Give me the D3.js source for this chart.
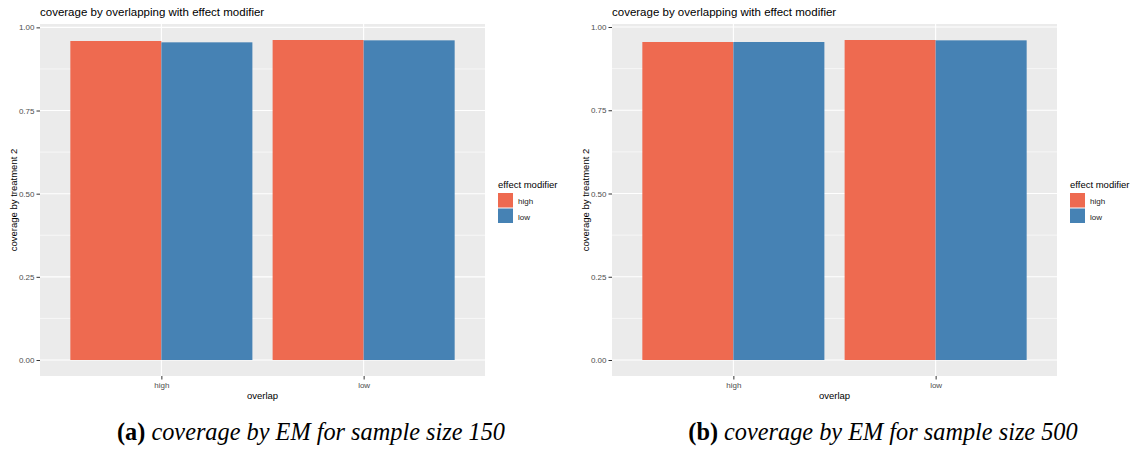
<!DOCTYPE html>
<html>
<head>
<meta charset="utf-8">
<script src="https://cdn.jsdelivr.net/npm/d3@7"></script>
<style>
  body { margin: 0; background: #fff; }
  text { font-family: "Liberation Sans", Arial, sans-serif; }
</style>
</head>
<body>
<script>
// data
const overlap = ['high', 'low'];
const modifiers = ['high', 'low'];
const colors = ['#EE6A50', '#4682B4'];
// coverage for each overlap level, by effect modifier (high, low)
const cov150High = [0.959, 0.955];
const cov150Low = [0.962, 0.961];
const cov500High = [0.955, 0.955];
const cov500Low = [0.961, 0.960];
const yTicks = [0, 0.25, 0.5, 0.75, 1.0];
const yMinor = [0.125, 0.375, 0.625, 0.875];

const width = 1132;
const height = 451;

const svg = d3.select('body').append('svg')
    .attr('width', width)
    .attr('height', height);

function drawPanel(x0, highVals, lowVals, tag, caption) {
    const rows = [];
    overlap.forEach((o, i) => {
        const vals = i === 0 ? highVals : lowVals;
        modifiers.forEach((m, j) => rows.push({overlap: o, em: m, value: vals[j]}));
    });

    const left = x0 + 40, right = x0 + 485, top = 24, bottom = 376;
    const g = svg.append('g');

    // ggplot-like discrete scale: 0.6 unit padding on each side
    const x = d3.scaleLinear().domain([0.4, 2.6]).range([left, right]);
    const maxV = d3.max(rows, d => d.value);
    const y = d3.scaleLinear().domain([-0.05 * maxV, 1.05 * maxV]).range([bottom, top]);
    const color = d3.scaleOrdinal().domain(modifiers).range(colors);

    g.append('rect')
        .attr('x', left).attr('y', top)
        .attr('width', right - left).attr('height', bottom - top)
        .attr('fill', '#EBEBEB');

    g.selectAll('.minor').data(yMinor).join('line')
        .attr('x1', left).attr('x2', right)
        .attr('y1', d => y(d)).attr('y2', d => y(d))
        .attr('stroke', '#fff').attr('stroke-width', 0.6);
    g.selectAll('.major').data(yTicks).join('line')
        .attr('x1', left).attr('x2', right)
        .attr('y1', d => y(d)).attr('y2', d => y(d))
        .attr('stroke', '#fff').attr('stroke-width', 1.1);
    g.selectAll('.xgrid').data(overlap).join('line')
        .attr('x1', (d, i) => x(i + 1)).attr('x2', (d, i) => x(i + 1))
        .attr('y1', top).attr('y2', bottom)
        .attr('stroke', '#fff').attr('stroke-width', 1.1);

    // dodged bars, width 0.9
    g.selectAll('.bar').data(rows).join('rect')
        .attr('x', d => x(overlap.indexOf(d.overlap) + 1 - 0.45 + 0.45 * modifiers.indexOf(d.em)))
        .attr('width', x(1.45) - x(1))
        .attr('y', d => y(d.value))
        .attr('height', d => y(0) - y(d.value))
        .attr('fill', d => color(d.em));

    // y axis
    const yAxis = g.append('g')
        .attr('transform', `translate(${left},0)`)
        .call(d3.axisLeft(y).tickValues(yTicks).tickFormat(d3.format('.2f')).tickSize(3.5).tickPadding(2));
    yAxis.select('.domain').remove();
    yAxis.selectAll('line').attr('stroke', '#333');
    yAxis.selectAll('text').attr('fill', '#4D4D4D').attr('font-size', 8)
        .style('font-family', '"Liberation Sans", Arial, sans-serif');

    // x axis
    const xAxis = g.append('g')
        .attr('transform', `translate(0,${bottom})`)
        .call(d3.axisBottom(x).tickValues([1, 2]).tickFormat((d, i) => overlap[i]).tickSize(3.5).tickPadding(3));
    xAxis.select('.domain').remove();
    xAxis.selectAll('line').attr('stroke', '#333');
    xAxis.selectAll('text').attr('fill', '#4D4D4D').attr('font-size', 8)
        .style('font-family', '"Liberation Sans", Arial, sans-serif');

    g.append('text')
        .attr('x', (left + right) / 2).attr('y', 399)
        .attr('text-anchor', 'middle').attr('font-size', 9.5)
        .text('overlap');
    g.append('text')
        .attr('transform', `translate(${x0 + 17},${(top + bottom) / 2}) rotate(-90)`)
        .attr('text-anchor', 'middle').attr('font-size', 9.5)
        .text('coverage by treatment 2');
    g.append('text')
        .attr('x', left).attr('y', 16)
        .attr('font-size', 11.5)
        .text('coverage by overlapping with effect modifier');

    // legend
    const lg = g.append('g').attr('transform', `translate(${x0 + 498},0)`);
    lg.append('text').attr('x', 0).attr('y', 188).attr('font-size', 9.5).text('effect modifier');
    lg.selectAll('rect').data(modifiers).join('rect')
        .attr('x', 0).attr('y', (d, i) => 193 + i * 15.5)
        .attr('width', 15).attr('height', 14.5)
        .attr('fill', d => color(d));
    lg.selectAll('.lab').data(modifiers).join('text')
        .attr('x', 20).attr('y', (d, i) => 204 + i * 15.5)
        .attr('font-size', 8).attr('fill', '#222')
        .text(d => d);

    // caption
    const cap = g.append('text')
        .attr('x', x0 + 311).attr('y', 440)
        .attr('text-anchor', 'middle')
        .style('font-family', '"Liberation Serif", "DejaVu Serif", serif')
        .attr('font-size', 24.3);
    cap.append('tspan').attr('font-weight', 'bold').text(tag);
    cap.append('tspan').attr('font-style', 'italic').text(' ' + caption);
}

drawPanel(0, cov150High, cov150Low, '(a)', 'coverage by EM for sample size 150');
drawPanel(572, cov500High, cov500Low, '(b)', 'coverage by EM for sample size 500');
</script>
</body>
</html>
